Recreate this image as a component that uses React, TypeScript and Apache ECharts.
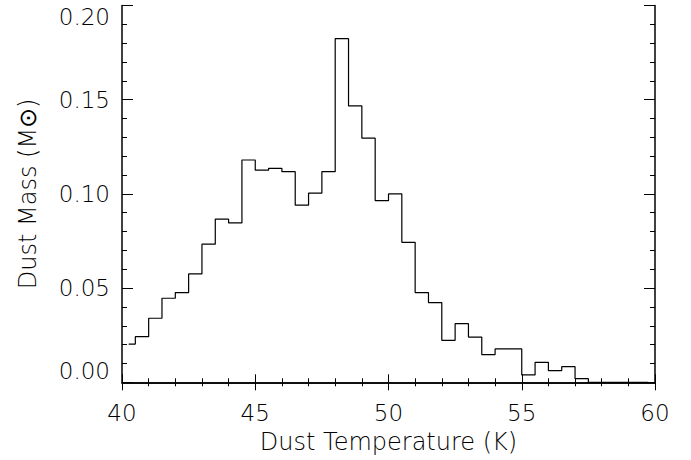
import React, { useEffect, useRef } from "react";
import * as echarts from "echarts";

const binCenters: number[] = [
  40.25, 40.75, 41.25, 41.75, 42.25, 42.75, 43.25, 43.75, 44.25, 44.75,
  45.25, 45.75, 46.25, 46.75, 47.25, 47.75, 48.25, 48.75, 49.25, 49.75,
  50.25, 50.75, 51.25, 51.75, 52.25, 52.75, 53.25, 53.75, 54.25, 54.75,
  55.25, 55.75, 56.25, 56.75, 57.25, 57.75, 58.25, 58.75, 59.25, 59.75,
];
const dustMass: number[] = [
  0.0203, 0.0242, 0.034, 0.0446, 0.0476, 0.0575, 0.0733, 0.0866, 0.0846, 0.118,
  0.1126, 0.1136, 0.1118, 0.094, 0.1004, 0.1118, 0.1824, 0.1467, 0.1296, 0.0964,
  0.1, 0.0743, 0.0476, 0.0423, 0.0223, 0.0311, 0.024, 0.0147, 0.0177, 0.0177,
  0.0039, 0.0106, 0.0062, 0.0083, 0.0019, 0, 0, 0, 0, 0,
];
const xTicks = { min: 40, max: 60, interval: 5 };
const yTicks = { min: 0, max: 0.2, interval: 0.05 };
const xTitle = "Dust Temperature (K)";
const yTitle = "Dust Mass (M\u2299)";

const FONT = "DejaVu Sans";

export default function App() {
  const ref = useRef<HTMLDivElement>(null);
  useEffect(() => {
    if (!ref.current) return;
    const chart = echarts.init(ref.current, null, { renderer: "svg" });
    const axisLine = { show: true, lineStyle: { color: "#000", width: 1.5 } };
    const labelStyle = { color: "#000", fontFamily: FONT, fontSize: 23, fontWeight: 200 as any };
    const nameStyle = { color: "#000", fontFamily: FONT, fontSize: 24, fontWeight: 200 as any };
    const xCommon = {
      type: "value" as const,
      min: xTicks.min,
      max: xTicks.max,
      interval: xTicks.interval,
      axisLine,
      splitLine: { show: false },
      axisTick: { show: true, inside: true, length: 8, lineStyle: { color: "#000", width: 1 } },
      minorTick: { show: true, splitNumber: 5, length: 4, lineStyle: { color: "#000", width: 1 } },
    };
    const yCommon = {
      type: "value" as const,
      min: yTicks.min,
      max: yTicks.max,
      interval: yTicks.interval,
      axisLine,
      splitLine: { show: false },
      axisTick: { show: true, inside: true, length: 11, lineStyle: { color: "#000", width: 1 } },
      minorTick: { show: true, splitNumber: 5, length: 5, lineStyle: { color: "#000", width: 1 } },
    };
    chart.setOption({
      animation: false,
      backgroundColor: "#fff",
      grid: {
        left: 122,
        right: 36,
        top: 5.5,
        bottom: 77.7,
        containLabel: false,
        outerBoundsMode: "none",
      },
      xAxis: [
        {
          ...xCommon,
          position: "bottom",
          axisLabel: { ...labelStyle, margin: 19 },
          name: xTitle,
          nameLocation: "middle",
          nameGap: 48,
          nameTextStyle: { ...nameStyle },
        },
        { ...xCommon, position: "top", axisLabel: { show: false } },
      ],
      yAxis: [
        {
          ...yCommon,
          position: "left",
          axisLabel: {
            ...labelStyle,
            margin: 12,
            formatter: (v: number) => v.toFixed(2),
            verticalAlignMinLabel: "bottom",
            verticalAlignMaxLabel: "top",
          },
          name: yTitle,
          nameLocation: "middle",
          nameGap: 82,
          nameRotate: 90,
          nameTextStyle: { ...nameStyle },
        },
        { ...yCommon, position: "right", axisLabel: { show: false } },
      ],
      series: [
        {
          type: "line",
          step: "middle",
          data: binCenters.map((x, i) => [x, dustMass[i]]),
          symbol: "none",
          lineStyle: { color: "#000", width: 1.2 },
          xAxisIndex: 0,
          yAxisIndex: 0,
        },
      ],
    });
    return () => chart.dispose();
  }, []);
  return (
    <div
      ref={ref}
      style={{ position: "fixed", left: 0, top: 0, width: 691, height: 460, background: "#fff" }}
    />
  );
}
